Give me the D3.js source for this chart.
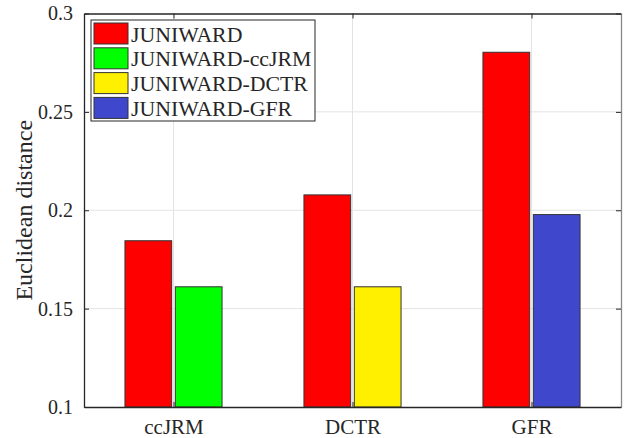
<!DOCTYPE html>
<html>
<head>
<meta charset="utf-8">
<script src="https://cdn.jsdelivr.net/npm/d3@7"></script>
<style>
  body { margin: 0; background: #fff; }
  text { font-family: "Liberation Serif", "Times New Roman", serif; fill: #262626; }
</style>
</head>
<body>
<div id="chart"></div>
<script>
const width = 625;
const height = 438;

const categories = ['ccJRM', 'DCTR', 'GFR'];
const seriesNames = ['JUNIWARD', 'JUNIWARD-ccJRM', 'JUNIWARD-DCTR', 'JUNIWARD-GFR'];
const seriesColors = ['#ff0000', '#00ff00', '#fff000', '#3f48cc'];
// baseline JUNIWARD per category, then the matching targeted variant
const juniward = [0.1845, 0.2078, 0.2803];
const targeted = [0.1611, 0.1611, 0.1978];
const yTicks = [0.1, 0.15, 0.2, 0.25, 0.3];

const plot = { left: 84, right: 621, top: 13.5, bottom: 407 };

const svg = d3.select('#chart').append('svg')
  .attr('width', width)
  .attr('height', height);

const scaleX = d3.scaleLinear()
  .domain([0.5, categories.length + 0.5])
  .range([plot.left, plot.right]);

const scaleY = d3.scaleLinear()
  .domain([0.1, 0.3])
  .range([plot.bottom, plot.top]);

// grid
svg.append('g').selectAll('line.gy')
  .data(yTicks.slice(1, -1))
  .enter().append('line')
    .attr('x1', plot.left).attr('x2', plot.right)
    .attr('y1', d => scaleY(d)).attr('y2', d => scaleY(d))
    .attr('stroke', '#e3e3e3').attr('stroke-width', 1);

svg.append('g').selectAll('line.gx')
  .data(categories)
  .enter().append('line')
    .attr('x1', (d, i) => scaleX(i + 1)).attr('x2', (d, i) => scaleX(i + 1))
    .attr('y1', plot.top).attr('y2', plot.bottom)
    .attr('stroke', '#e3e3e3').attr('stroke-width', 1);

// bars
const barWidth = 0.261;
const barOffset = 0.1407;
const bars = [];
categories.forEach(function (c, i) {
  bars.push({ x: i + 1 - barOffset, v: juniward[i], color: seriesColors[0] });
  bars.push({ x: i + 1 + barOffset, v: targeted[i], color: seriesColors[i + 1] });
});

svg.append('g').selectAll('rect')
  .data(bars)
  .enter().append('rect')
    .attr('x', d => scaleX(d.x - barWidth / 2))
    .attr('width', d => scaleX(d.x + barWidth / 2) - scaleX(d.x - barWidth / 2))
    .attr('y', d => scaleY(d.v))
    .attr('height', d => scaleY(0.1) - scaleY(d.v))
    .attr('fill', d => d.color)
    .attr('stroke', '#333')
    .attr('stroke-width', 1);

// axes (box with inward ticks)
const axisColor = '#262626';
const tickLen = 5;

const axLeft = svg.append('g')
  .attr('transform', `translate(${plot.left},0)`)
  .call(d3.axisLeft(scaleY).tickValues(yTicks).tickSizeInner(-tickLen).tickSizeOuter(0).tickPadding(11)
    .tickFormat(d3.format('')));
axLeft.selectAll('text').attr('font-size', 20).style('fill', axisColor);

const axRight = svg.append('g')
  .attr('transform', `translate(${plot.right},0)`)
  .call(d3.axisRight(scaleY).tickValues(yTicks).tickSizeInner(-tickLen).tickSizeOuter(0).tickFormat(''));

const axBottom = svg.append('g')
  .attr('transform', `translate(0,${plot.bottom})`)
  .call(d3.axisBottom(scaleX).tickValues([1, 2, 3]).tickSizeInner(-tickLen).tickSizeOuter(0).tickPadding(12)
    .tickFormat((d, i) => categories[i]));
axBottom.selectAll('text').attr('font-size', 21).style('fill', axisColor);

const axTop = svg.append('g')
  .attr('transform', `translate(0,${plot.top})`)
  .call(d3.axisTop(scaleX).tickValues([1, 2, 3]).tickSizeInner(-tickLen).tickSizeOuter(0).tickFormat(''));

[axLeft, axRight, axBottom, axTop].forEach(function (g) {
  g.select('.domain').attr('stroke', axisColor).attr('stroke-width', 1.3);
  g.selectAll('.tick line').attr('stroke', axisColor);
});
axRight.select('.domain').attr('stroke', '#888');

// y label
svg.append('text')
  .attr('transform', `translate(32,${(plot.top + plot.bottom) / 2}) rotate(-90)`)
  .attr('text-anchor', 'middle')
  .attr('font-size', 24)
  .text('Euclidean distance');

// legend
const legend = svg.append('g').attr('transform', 'translate(91,20)');
legend.append('rect')
  .attr('width', 224).attr('height', 101)
  .attr('fill', '#fff').attr('stroke', axisColor).attr('stroke-width', 1);

const entry = legend.selectAll('g.entry')
  .data(seriesNames)
  .enter().append('g')
    .attr('transform', (d, i) => `translate(3,${3 + i * 24.8})`);

entry.append('rect')
  .attr('width', 34).attr('height', 21)
  .attr('fill', (d, i) => seriesColors[i])
  .attr('stroke', '#333');

entry.append('text')
  .attr('x', 37).attr('y', 18.5)
  .attr('font-size', 21.8)
  .text(d => d);
</script>
</body>
</html>
